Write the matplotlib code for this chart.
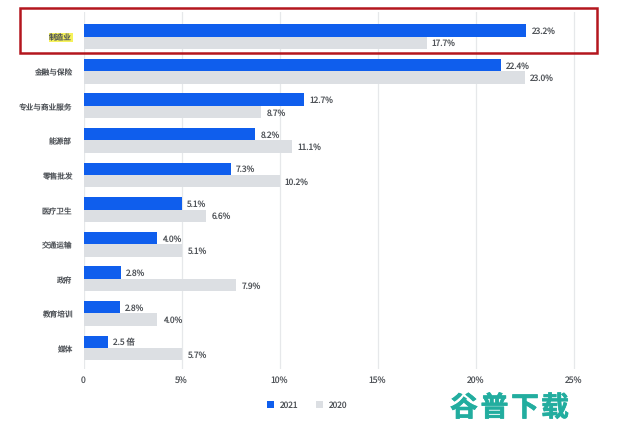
import matplotlib
matplotlib.use("Agg")
import matplotlib.pyplot as plt
import matplotlib.patheffects as pe
from matplotlib.patches import Rectangle

plt.rcParams['font.family'] = ['Noto Sans CJK SC', 'DejaVu Sans']
plt.rcParams['text.hinting'] = 'no_hinting'

categories = ["制造业", "金融与保险", "专业与商业服务", "能源部", "零售批发",
              "医疗卫生", "交通运输", "政府", "教育培训", "媒体"]
bars_2021 = [22.6, 21.3, 11.25, 8.77, 7.5, 5.0, 3.77, 1.93, 1.87, 1.26]
bars_2020 = [17.5, 22.5, 9.07, 10.65, 10.0, 6.27, 5.0, 7.8, 3.77, 5.0]
labels_2021 = ["23.2%", "22.4%", "12.7%", "8.2%", "7.3%", "5.1%", "4.0%", "2.8%", "2.8%", "2.5 倍"]
labels_2020 = ["17.7%", "23.0%", "8.7%", "11.1%", "10.2%", "6.6%", "5.1%", "7.9%", "4.0%", "5.7%"]
xticks = [0, 5, 10, 15, 20, 25]
xticklabels = ["0", "5%", "10%", "15%", "20%", "25%"]
watermark = ["谷", "普", "下", "载"]

W, H = 627, 431
BLUE, GREY, TXT = "#0f5eed", "#dcdfe3", "#505459"
fig = plt.figure(figsize=(W / 100, H / 100), dpi=100, facecolor="white")
L, R, T, B = 83.5, 592, 13, 370
Y0 = 37.6
ax = fig.add_axes([L / W, 1 - B / H, (R - L) / W, (B - T) / H])
ax.set_xlim(0, (R - L) / 19.6)
ax.set_ylim((B - Y0) / 34.6, (T - Y0) / 34.6)
for s in ax.spines.values():
    s.set_visible(False)
ax.set_axisbelow(True)
ax.grid(axis="x", color="#e6e8ea", lw=0.9)
ax.set_xticks(xticks, xticklabels, fontsize=6.2, color=TXT)
ax.set_yticks(range(len(categories)), categories, fontsize=5.5, color=TXT)
ax.tick_params(length=0)
ax.tick_params(axis="x", pad=4.5)
ax.tick_params(axis="y", pad=8.2)

h = 0.36
ys = list(range(len(categories)))
ax.barh([y - h / 2 for y in ys], bars_2021, height=h, color=BLUE)
ax.barh([y + h / 2 for y in ys], bars_2020, height=h, color=GREY)
for y, v, s in zip(ys, bars_2021, labels_2021):
    ax.annotate(s, (v, y - h / 2), xytext=(3.6, 0), textcoords="offset points",
                fontsize=6.0, color=TXT, va="center")
for y, v, s in zip(ys, bars_2020, labels_2020):
    ax.annotate(s, (v, y + h / 2), xytext=(3.9, 0), textcoords="offset points",
                fontsize=6.0, color=TXT, va="center")

ax.get_yticklabels()[0].set_bbox(dict(facecolor="#f6f25a", edgecolor="none", pad=0.4))


def fx(x):
    return x / W


def fy(y):
    return 1 - y / H


fig.add_artist(Rectangle((fx(19.5), fy(54)), 577 / W, 45 / H, transform=fig.transFigure,
                         fill=False, edgecolor="#b4161e", lw=1.8))
fig.add_artist(Rectangle((fx(267), fy(409)), 7 / W, 7 / H, transform=fig.transFigure,
                         facecolor=BLUE, edgecolor="none"))
fig.add_artist(Rectangle((fx(316), fy(409)), 7 / W, 7 / H, transform=fig.transFigure,
                         facecolor=GREY, edgecolor="none"))
fig.text(fx(279.5), fy(405), "2021", fontsize=6.0, color=TXT, va="center")
fig.text(fx(328.5), fy(405), "2020", fontsize=6.0, color=TXT, va="center")
for cx, ch in zip([464, 494.5, 525, 555], watermark):
    fig.text(fx(cx), fy(409), ch, fontsize=20, fontweight="bold", color="#22ad9f",
             ha="center", va="center",
             path_effects=[pe.withStroke(linewidth=0.5, foreground="#22ad9f")])
fig.savefig("out.png", dpi=100)
